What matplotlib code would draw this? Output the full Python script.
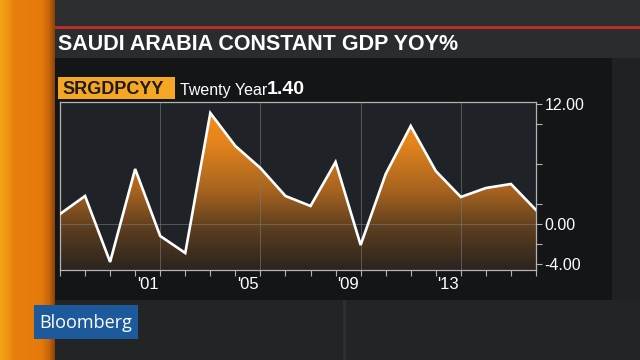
import numpy as np
import matplotlib
matplotlib.use("Agg")
import matplotlib.pyplot as plt
from matplotlib.patches import Rectangle
from matplotlib.colors import LinearSegmentedColormap

# data (year-end values)
years = [1997, 1998, 1999, 2000, 2001, 2002, 2003, 2004, 2005, 2006,
         2007, 2008, 2009, 2010, 2011, 2012, 2013, 2014, 2015, 2016]
gdp_yoy = [1.0, 2.8, -3.8, 5.5, -1.2, -2.9, 11.1, 7.8, 5.6, 2.8,
           1.8, 6.2, -2.1, 5.0, 9.8, 5.3, 2.7, 3.6, 4.0, 1.4]
label_years = [2001, 2005, 2009, 2013]
label_text = ["'01", "'05", "'09", "'13"]
y_major = [12, 0, -4]
y_minor = [10, 6, 2, -2]
title = "SAUDI ARABIA CONSTANT GDP YOY%"
ticker = "SRGDPCYY"
avg_label = "Twenty Year"
avg_value = "1.40"

plt.rcParams["font.family"] = ["Liberation Sans", "DejaVu Sans"]

W, H = 640, 360
fig = plt.figure(figsize=(6.4, 3.6), dpi=100)
fig.patch.set_facecolor("#1d1f21")

# background drawn in pixel coords
bg = fig.add_axes([0, 0, 1, 1], zorder=-5)
bg.set_xlim(0, W)
bg.set_ylim(H, 0)
bg.axis("off")


def box(x, y, w, h, color, **kw):
    bg.add_patch(Rectangle((x, y), w, h, facecolor=color, edgecolor="none", **kw))


box(0, 0, W, H, "#1f2123")
box(52, 0, W - 52, 26, "#2b2d2f")
box(52, 300, W - 52, 60, "#222426")
box(343, 300, 3, 60, "#2d2f31")
box(52, 26, W - 52, 3, "#b3302a")
box(52, 29, W - 52, 29, "#2a2c2f")
box(55, 58, 557, 242, "#141517")

# orange stripe on the left
stripe = LinearSegmentedColormap.from_list(
    "stripe", [(0, "#f2a416"), (0.15, "#ef9210"), (0.25, "#e97f0c"),
               (0.75, "#e57a0c"), (0.9, "#c9650a"), (1, "#8a4508")])
bg.imshow(np.linspace(0, 1, 64).reshape(1, -1), extent=(0, 55, H, 0),
          aspect="auto", cmap=stripe, zorder=1)

bg.text(58, 44, title, color="white", fontsize=15.5, fontweight="bold",
        va="center", ha="left")

box(58, 77, 117, 22, "#f5a623", zorder=2)
bg.text(62, 89, ticker, color="#1b1b1b", fontsize=13, fontweight="bold",
        va="center", ha="left", zorder=3)
bg.text(180, 90, avg_label, color="white", fontsize=11.5,
        va="center", ha="left")
bg.text(267, 89, avg_value, color="white", fontsize=14, fontweight="bold",
        va="center", ha="left")

box(34, 305, 104, 34, "#1c5a9c", zorder=2)
bg.text(86, 322.5, "Bloomberg", color="white", fontsize=13,
        family=["Open Sans", "DejaVu Sans"], va="center", ha="center", zorder=3)

# main chart
ymin, ymax = -4.6, 12.2
ax = fig.add_axes([60 / W, 1 - 270 / H, 476 / W, 168 / H])
ax.set_facecolor("#1f2226")

fill = ax.fill_between(years, gdp_yoy, ymin, facecolor="none", edgecolor="none")
cmap = LinearSegmentedColormap.from_list(
    "grad", [(0, "#2a2420"), (0.25, "#5a3d1e"), (0.5, "#a8641f"),
             (0.8, "#e5851c"), (1, "#f68d1c")])
grad = np.linspace(0, 1, 256).reshape(-1, 1)
im = ax.imshow(grad, extent=(years[0], years[-1], ymin, 11.5), origin="lower",
               aspect="auto", cmap=cmap, zorder=1)
im.set_clip_path(fill.get_paths()[0], transform=ax.transData)

for yr in label_years:
    ax.axvline(yr, color="#7a7a7a", lw=0.7, alpha=0.6, zorder=2)
ax.axhline(0, color="#7a7a7a", lw=0.7, alpha=0.6, zorder=2)

ax.plot(years, gdp_yoy, color="white", lw=1.9, zorder=3,
        solid_joinstyle="miter")

ax.set_xlim(years[0], years[-1])
ax.set_ylim(ymin, ymax)

for s in ax.spines.values():
    s.set_color("#b4b4b4")
    s.set_linewidth(0.9)

ax.set_xticks(years)
ax.set_xticklabels([])
ax.set_xticks([y - 0.5 for y in label_years], minor=True)
ax.set_xticklabels(label_text, minor=True)
ax.tick_params(axis="x", which="major", length=4, width=0.8,
               color="#b4b4b4", direction="out")
ax.tick_params(axis="x", which="minor", length=0, pad=5,
               labelsize=12, labelcolor="white")

ax.yaxis.tick_right()
ax.set_yticks(y_major)
ax.set_yticklabels([f"{v:.2f}" for v in y_major])
ax.set_yticks(y_minor, minor=True)
ax.tick_params(axis="y", which="both", length=4, width=0.8,
               color="#b4b4b4", direction="out", pad=2,
               labelsize=11.5, labelcolor="white")

fig.savefig("out.png", dpi=100, facecolor=fig.get_facecolor())
